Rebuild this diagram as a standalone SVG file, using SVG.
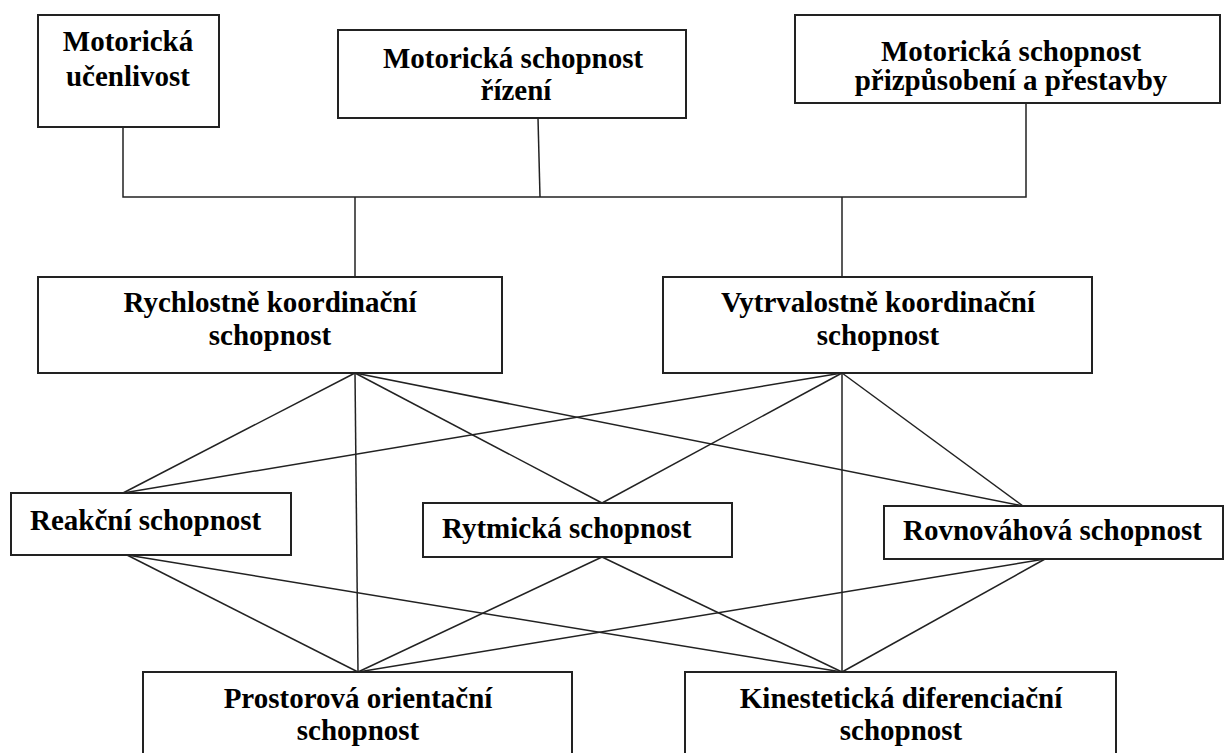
<svg xmlns="http://www.w3.org/2000/svg" width="1225" height="753" viewBox="0 0 1225 753">
<style>
.box{fill:#fff;stroke:#222;stroke-width:2}
.t{font-family:"Liberation Serif","Times New Roman",serif;font-weight:bold;font-size:29px;fill:#000;text-anchor:middle}
.tl{text-anchor:start}
.c line,.c polyline{stroke:#222;stroke-width:1.5;fill:none}
</style>
<rect width="1225" height="753" fill="#fff"/>
<g id="connectors" class="c">
<polyline points="123,127 123,197 1026,197 1026,103"/>
<line x1="538" y1="118" x2="540" y2="197"/>
<line x1="355" y1="197" x2="355" y2="277"/>
<line x1="842" y1="197" x2="842" y2="277"/>
<line x1="355" y1="373" x2="123" y2="493"/>
<line x1="355" y1="373" x2="602" y2="503"/>
<line x1="355" y1="373" x2="1023" y2="506"/>
<line x1="355" y1="373" x2="358" y2="672"/>
<line x1="842" y1="373" x2="123" y2="493"/>
<line x1="842" y1="373" x2="602" y2="503"/>
<line x1="842" y1="373" x2="1023" y2="506"/>
<line x1="842" y1="373" x2="842" y2="672"/>
<line x1="127" y1="555" x2="358" y2="672"/>
<line x1="127" y1="555" x2="842" y2="672"/>
<line x1="602" y1="557" x2="358" y2="672"/>
<line x1="602" y1="557" x2="842" y2="672"/>
<line x1="1045" y1="559" x2="358" y2="672"/>
<line x1="1045" y1="559" x2="842" y2="672"/>
</g>
<g id="ucenlivost">
<rect class="box" x="38" y="15" width="181" height="112"/>
<text class="t" x="128" y="51">Motorická</text>
<text class="t" x="128" y="86">učenlivost</text>
</g>
<g id="rizeni">
<rect class="box" x="338" y="30" width="348" height="88"/>
<text class="t" x="513" y="68">Motorická schopnost</text>
<text class="t" x="516" y="100">řízení</text>
</g>
<g id="prizpusobeni">
<rect class="box" x="795" y="15" width="425" height="88"/>
<text class="t" x="1011" y="61">Motorická schopnost</text>
<text class="t" x="1011" y="90">přizpůsobení a přestavby</text>
</g>
<g id="rychlostne">
<rect class="box" x="38" y="277" width="464" height="96"/>
<text class="t" x="270" y="312">Rychlostně koordinační</text>
<text class="t" x="270" y="345">schopnost</text>
</g>
<g id="vytrvalostne">
<rect class="box" x="663" y="277" width="429" height="96"/>
<text class="t" x="878" y="312">Vytrvalostně koordinační</text>
<text class="t" x="878" y="345">schopnost</text>
</g>
<g id="reakcni">
<rect class="box" x="11" y="493" width="280" height="62"/>
<text class="t tl" x="30" y="530">Reakční schopnost</text>
</g>
<g id="rytmicka">
<rect class="box" x="423" y="503" width="309" height="54"/>
<text class="t tl" x="442" y="538">Rytmická schopnost</text>
</g>
<g id="rovnovahova">
<rect class="box" x="884" y="506" width="339" height="53"/>
<text class="t tl" x="903" y="540">Rovnováhová schopnost</text>
</g>
<g id="prostorova">
<rect class="box" x="143" y="672" width="429" height="90"/>
<text class="t" x="358" y="708">Prostorová orientační</text>
<text class="t" x="358" y="740">schopnost</text>
</g>
<g id="kinesteticka">
<rect class="box" x="685" y="672" width="431" height="90"/>
<text class="t" x="901" y="708">Kinestetická diferenciační</text>
<text class="t" x="901" y="740">schopnost</text>
</g>
</svg>
